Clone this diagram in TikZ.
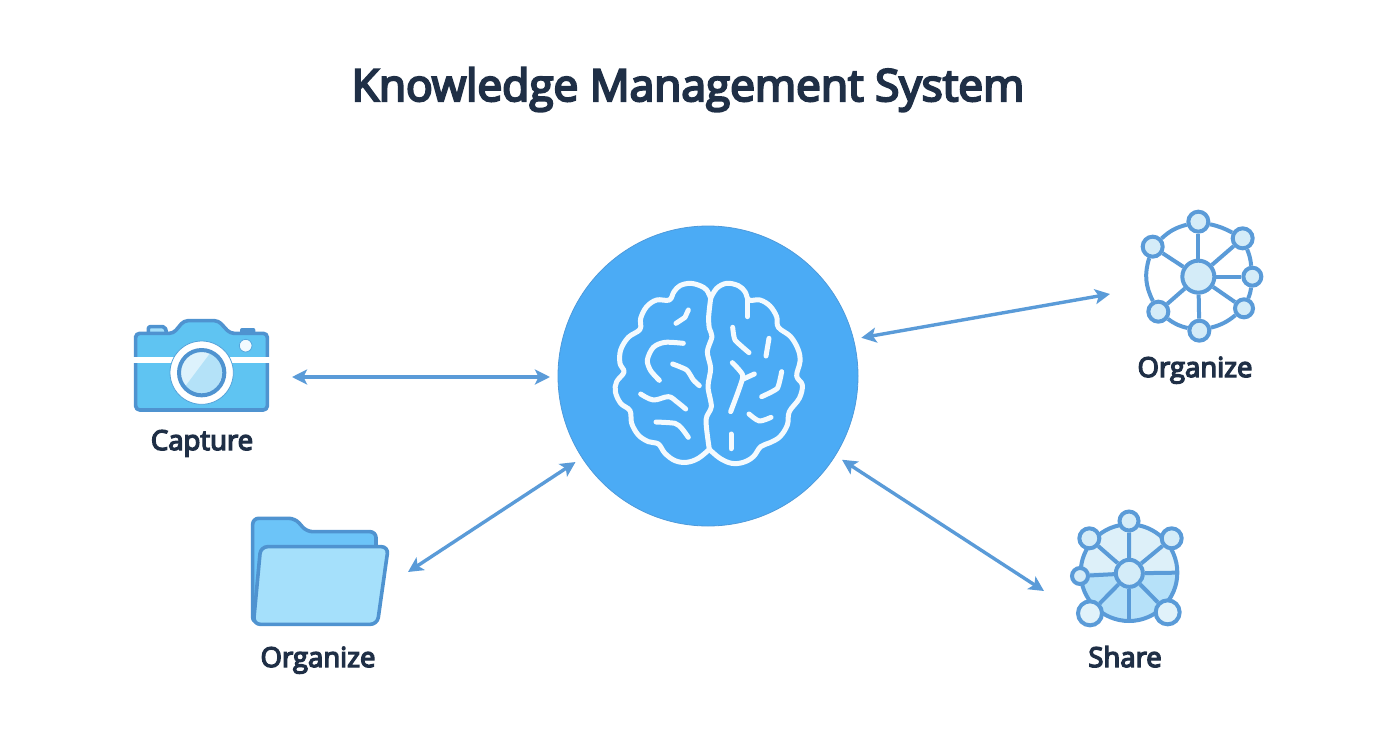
\documentclass[tikz,border=0pt]{standalone}
\usepackage{fontspec}
\setmainfont{Open Sans}[FakeBold=5]
\usepackage{tikz}
\usetikzlibrary{arrows.meta}
\definecolor{inkdark}{HTML}{1F2F46}
\definecolor{hubblue}{HTML}{4BABF5}
\definecolor{linkblue}{HTML}{5A9BD8}
\definecolor{iconedge}{HTML}{4F93D0}
\definecolor{camfill}{HTML}{5FC4F2}
\definecolor{lensfill}{HTML}{B4E2F8}
\definecolor{backfill}{HTML}{6CC4F8}
\definecolor{frontfill}{HTML}{A5E0FB}
\definecolor{netfill}{HTML}{D4ECF8}
\definecolor{discfill}{HTML}{B6E1F9}
\tikzset{
	link/.style={linkblue,line width=3.4pt,{Stealth[length=15pt,width=15pt,inset=3.5pt]}-{Stealth[length=15pt,width=15pt,inset=3.5pt]}},
	caption/.style={inkdark,anchor=base,font=\fontsize{27.5}{30}\selectfont},
	brainline/.style={white!94!hubblue,line width=5pt,line cap=round,line join=round},
	iconline/.style={draw=iconedge,line width=3.6pt,line join=round},
	netnode/.style={circle,draw=linkblue,fill=netfill,line width=4pt,inner sep=0pt,minimum size=#1},
	netedge/.style={linkblue,line width=4pt},
	icon/.style={x=1pt/3,y=-1pt/3}
}
\begin{document}
\begin{tikzpicture}[x=1pt,y=-1pt]
	    \useasboundingbox (0,0) rectangle (1392,752);
	    \node[inkdark,anchor=base,font=\fontsize{44.2}{48}\selectfont] (Title) at (688,101) {Knowledge Management System};
	    \node[circle,fill=hubblue,draw=iconedge!70!hubblue,line width=.8pt,minimum size=300pt,outer sep=8pt] (Hub) at (708,376) {}; % central disc
	    % far ends of the arrows
	    \coordinate (CapEnd) at (292,377);
	    \coordinate (FolderEnd) at (408,572);
	    \coordinate (NetEnd) at (1110,294);
	    \coordinate (ShareEnd) at (1044,591);
	    \draw[link] (CapEnd) -- (Hub.west |- CapEnd);
	    \draw[link] (FolderEnd) -- (Hub.213.6);
	    \draw[link] (Hub.14) -- (NetEnd);
	    \draw[link] (Hub.-32) -- (ShareEnd);
	    \begin{scope}[shift={(550,220)},icon] % brain
	    \draw[brainline] plot[smooth,tension=.6] coordinates {(482,235) (470,210) (450,197) (420,190) (390,197) (372,215) (358,240) (320,240) (290,260) (272,295) (270,328) (235,352) (212,390) (210,430) (222,456) (200,485) (196,515) (212,550) (240,572) (245,610) (265,645) (295,665) (325,672) (345,700) (375,722) (410,727) (445,715) (478,688)};
	    \draw[brainline] plot[smooth,tension=.6] coordinates {(482,235) (500,205) (530,190) (565,197) (585,215) (597,240) (630,240) (660,258) (680,290) (685,322) (722,350) (745,390) (750,425) (740,468) (757,495) (748,535) (718,575) (712,615) (690,650) (660,668) (632,680) (610,710) (580,727) (545,730) (510,715) (478,688)};
	    \draw[brainline] plot[smooth,tension=.5] coordinates {(482,235) (476,290) (478,325) (486,350) (472,395) (482,445) (474,500) (484,560) (468,600) (478,688)}; % centre fold
	    \draw[brainline] (378,310) -- (405,292) -- (415,270);
	    \draw[brainline] plot[smooth] coordinates {(400,370) (345,367) (310,382) (292,420) (302,452) (328,481)};
	    \draw[brainline] plot[smooth,tension=.4] coordinates {(368,432) (410,450) (430,480) (448,497)};
	    \draw[brainline] plot[smooth,tension=.6] coordinates {(272,522) (310,540) (355,530) (380,545) (407,567)};
	    \draw[brainline] plot[smooth,tension=.4] coordinates {(318,606) (375,610) (395,625) (415,652)};
	    \draw[brainline] (592,240) -- (592,290);
	    \draw[brainline] plot[smooth,tension=.3] coordinates {(548,322) (555,360) (597,398)};
	    \draw[brainline] (657,355) -- (648,408);
	    \draw[brainline] plot[smooth,tension=.4] coordinates {(547,428) (578,465) (568,505) (542,575)};
	    \draw[brainline] (578,478) -- (613,462);
	    \draw[brainline] plot[smooth,tension=.3] coordinates {(695,455) (682,505) (635,530)};
	    \draw[brainline] plot[smooth,tension=.5] coordinates {(597,582) (628,603) (663,592)};
	    \draw[brainline] (543,642) -- (543,686);
	    \end{scope}
	    \begin{scope}[shift={(120,310)},icon] % camera
	    \draw[iconline,fill=frontfill,rounded corners=2pt] (85,70) -- (85,50) -- (135,50) -- (140,70);
	    \fill[iconedge,rounded corners=2pt] (360,72) rectangle (406,54);
	    \draw[iconline,fill=camfill,rounded corners=4pt] (47,90) -- (47,70) -- (160,70) -- (192,32) -- (295,32) -- (330,70) -- (442,70) -- (442,300) -- (47,300) -- cycle;
	    \fill[white] (30,142) rectangle (455,159);
	    \filldraw[fill=white!92!camfill,draw=iconedge!60!camfill,line width=.8pt] (377,107) circle[radius=19];
	    \filldraw[fill=white,draw=iconedge!70!camfill,line width=.8pt] (245,188) circle[radius=95];
	    \fill[white!55!lensfill] (245,188) circle[radius=68];
	    \fill[lensfill] (195,230) -- (270,130) -- (300,145) -- (310,190) -- (290,235) -- (245,255) -- (210,245) -- cycle;
	    \draw[iconline,line width=4pt] (245,188) circle[radius=68];
	    \end{scope}
	    \begin{scope}[shift={(240,505)},icon] % folder
	    \draw[iconline,fill=backfill,rounded corners=6pt] (38,355) -- (38,40) -- (165,40) -- (200,80) -- (408,80) -- (408,200) -- cycle;
	    \draw[iconline,fill=frontfill,rounded corners=7pt] (62,125) -- (445,125) -- (412,358) -- (40,358) -- cycle;
	    \end{scope}
	    \begin{scope}[shift={(1130,200)},icon] % network
	    \node[netnode=32pt] (NetC) at (205,230) {};
	    \node[netnode=20pt] (Net1) at (205,65) {};
	    \node[netnode=20pt] (Net2) at (338,115) {};
	    \node[netnode=18pt] (Net3) at (367,230) {};
	    \node[netnode=18pt] (Net4) at (342,325) {};
	    \node[netnode=20pt] (Net5) at (208,392) {};
	    \node[netnode=20pt] (Net6) at (85,335) {};
	    \node[netnode=20pt] (Net7) at (68,140) {};
	    \foreach \k in {1,...,7}
	    	\draw[netedge] (NetC) -- (Net\k);
	    \draw[netedge] (Net7) to[bend left=14] (Net1);
	    \draw[netedge] (Net1) to[bend left=8] (Net2);
	    \draw[netedge] (Net2) to[bend left=8] (Net3);
	    \draw[netedge] (Net3) to[bend left=8] (Net4);
	    \draw[netedge] (Net4) to[bend left=12] (Net5);
	    \draw[netedge] (Net5) to[bend left=12] (Net6);
	    \draw[netedge] (Net6) to[bend left=22] (Net7);
	    \end{scope}
	    \begin{scope}[shift={(1060,505)},icon] % share
	    \fill[discfill] (207,203) circle[radius=145];
	    \fill[netfill!80!white] (62,203) arc[start angle=180,end angle=360,radius=145] -- cycle;
	    \draw[netedge] (207,203) circle[radius=145];
	    \coordinate (ShareE) at (352,203);
	    \coordinate (ShareS) at (208,348);
	    \node[netnode=27pt] (ShareC) at (208,205) {};
	    \node[netnode=19pt] (Share1) at (207,48) {};
	    \node[netnode=20pt] (Share2) at (335,100) {};
	    \node[netnode=20pt] (Share3) at (88,100) {};
	    \node[netnode=16pt] (Share4) at (60,213) {};
	    \node[netnode=24pt,fill=netfill!70!white] (Share5) at (90,325) {};
	    \node[netnode=24pt,fill=netfill!70!white] (Share6) at (323,322) {};
	    \foreach \k in {1,...,6}
	    	\draw[netedge] (ShareC) -- (Share\k);
	    \draw[netedge] (ShareC) -- (ShareE);
	    \draw[netedge] (ShareC) -- (ShareS);
	    \end{scope}
	    \node[caption] (CapText) at (202,450) {Capture};
	    \node[caption] (FolderText) at (318,667) {Organize};
	    \node[caption] (NetText) at (1195,377) {Organize};
	    \node[caption] (ShareText) at (1125,667) {Share};
	    \end{tikzpicture}
\end{document}
